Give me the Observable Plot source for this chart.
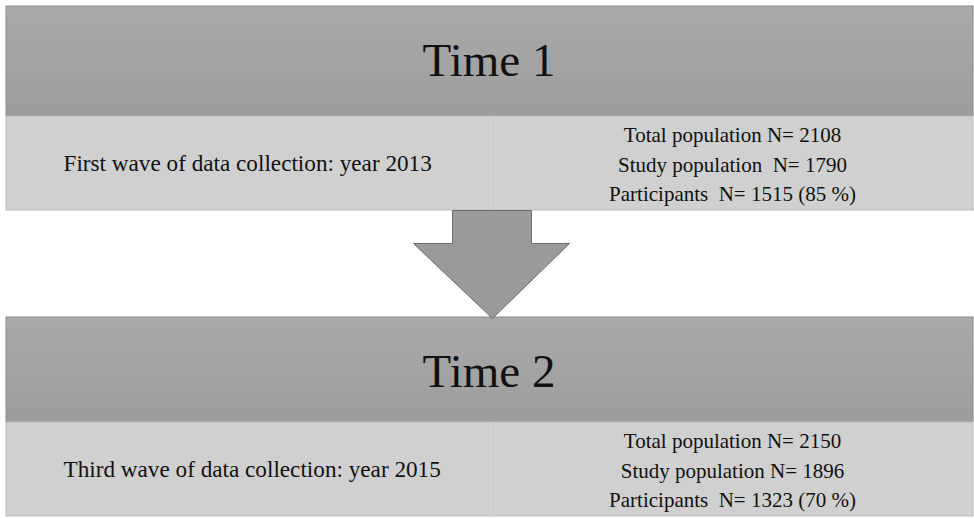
<!DOCTYPE html>
<html>
<head>
<meta charset="utf-8">
<script src="https://cdn.jsdelivr.net/npm/d3@7"></script>
<script src="https://cdn.jsdelivr.net/npm/@observablehq/plot@0.6"></script>
<style>
  html, body { margin: 0; padding: 0; background: #fff; }
  svg text { white-space: pre; }
</style>
</head>
<body>
<div id="chart"></div>
<script>
// ---- data ----
const timeLabels = ["Time 1", "Time 2"];
const waveLabels = ["First wave of data collection: year 2013", "Third wave of data collection: year 2015"];
const totalPopulation = [2108, 2150];
const studyPopulation = [1790, 1896];
const participants = [1515, 1323];
const participationPct = [85, 70];

// ---- layout (pixel space) ----
const W = 974, H = 518;
const boxLeft = 6, boxRight = 973;
const boxTops = [6, 317];
const headerHs = [110, 105];
const bandHs = [94, 94];
const dividerX = 490;

const headers = timeLabels.map((t, i) => ({
  label: t, x1: boxLeft, x2: boxRight, y1: boxTops[i], y2: boxTops[i] + headerHs[i]
}));
const bands = waveLabels.map((w, i) => ({
  label: w, x1: boxLeft, x2: boxRight, y1: boxTops[i] + headerHs[i], y2: boxTops[i] + headerHs[i] + bandHs[i]
}));
const detailLines = [];
timeLabels.forEach((t, i) => {
  const lines = [
    `Total population N= ${totalPopulation[i]}`,
    i === 0 ? `Study population  N= ${studyPopulation[i]}` : `Study population N= ${studyPopulation[i]}`,
    `Participants  N= ${participants[i]} (${participationPct[i]} %)`
  ];
  const offs = [25.5, 55, 84.5];
  lines.forEach((s, j) => detailLines.push({ text: s, x: 732, y: bands[i].y1 + offs[j] }));
});

// arrow polygon between the two boxes
const aTop = bands[0].y2, aTip = boxTops[1] + 1;
const arrow = [
  [452, aTop], [531, aTop], [531, 243], [569, 243], [492, aTip], [413, 243], [452, 243], [452, aTop]
].map(([x, y]) => ({ x, y }));

const serif = "'Liberation Serif', 'Times New Roman', 'DejaVu Serif', serif";

const plot = Plot.plot({
  width: W, height: H,
  margin: 0,
  x: { domain: [0, W], range: [0, W], axis: null },
  y: { domain: [0, H], range: [0, H], axis: null },
  style: { background: "#fff", fontFamily: serif },
  marks: [
    Plot.rect(headers, { x1: "x1", x2: "x2", y1: "y1", y2: "y2", fill: "url(#hdrGrad)", stroke: "#8c8c8c", strokeWidth: 1 }),
    Plot.rect(bands, { x1: "x1", x2: "x2", y1: "y1", y2: "y2", fill: "#d0d0d0", stroke: "#bcbcbc", strokeWidth: 1 }),
    Plot.ruleX(bands, { x: () => dividerX, y1: "y1", y2: "y2", stroke: "#d7d7d7", strokeWidth: 1 }),
    Plot.line(arrow, { x: "x", y: "y", fill: "#9a9a9a", stroke: "#6e6e6e", strokeWidth: 1, curve: "linear" }),
    Plot.text(headers, { x: (d) => (d.x1 + d.x2) / 2 - 1, y: (d) => d.y1 + 69, text: "label", fontSize: 47, fontFamily: serif, fill: "#111", lineAnchor: "bottom", textAnchor: "middle" }),
    Plot.text(bands, { x: 63, y: (d, i) => d.y1 + 54.5, text: "label", fontSize: 23.2, fontFamily: serif, fill: "#111", lineAnchor: "bottom", textAnchor: "start" }),
    Plot.text(detailLines, { x: "x", y: "y", text: "text", fontSize: 21, fontFamily: serif, fill: "#111", lineAnchor: "bottom", textAnchor: "middle" })
  ]
});

// gradient for header fill
const ns = "http://www.w3.org/2000/svg";
const defs = document.createElementNS(ns, "defs");
const grad = document.createElementNS(ns, "linearGradient");
grad.setAttribute("id", "hdrGrad");
grad.setAttribute("x1", "0"); grad.setAttribute("y1", "0");
grad.setAttribute("x2", "0"); grad.setAttribute("y2", "1");
[["0%", "#a9a9a9"], ["100%", "#9d9d9d"]].forEach(([o, c]) => {
  const s = document.createElementNS(ns, "stop");
  s.setAttribute("offset", o); s.setAttribute("stop-color", c);
  grad.appendChild(s);
});
defs.appendChild(grad);
plot.insertBefore(defs, plot.firstChild);

document.getElementById("chart").appendChild(plot);
</script>
</body>
</html>
